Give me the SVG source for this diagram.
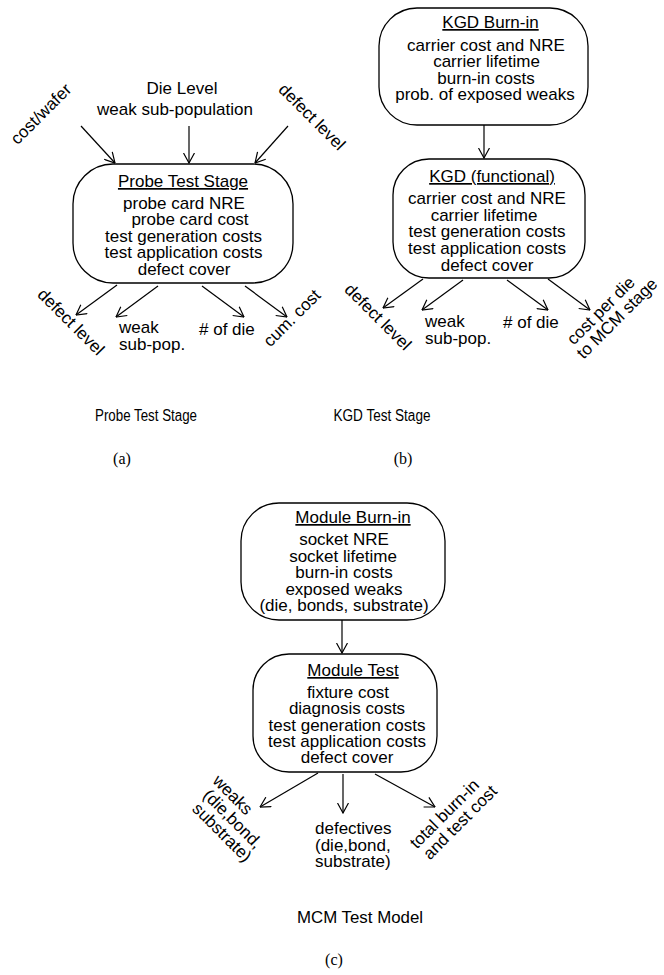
<svg xmlns="http://www.w3.org/2000/svg" width="664" height="975" viewBox="0 0 664 975">
<style>
  text { font-family: "Liberation Sans", Arial, sans-serif; font-size: 17px; fill: #000; }
  .c { text-anchor: middle; }
  .t { text-anchor: middle; text-decoration: underline; }
  .cap { font-size: 16px; text-anchor: middle; }
  .lbl { font-family: "Liberation Serif", "Times New Roman", serif; font-size: 16px; text-anchor: middle; }
  .box { fill: #fff; stroke: #000; stroke-width: 1.3; }
  .edge { fill: none; stroke: #000; stroke-width: 1.2; marker-end: url(#arr); }
</style>
<defs>
  <marker id="arr" viewBox="0 0 11 12" refX="10.5" refY="6" markerWidth="11" markerHeight="12" markerUnits="userSpaceOnUse" orient="auto">
    <path d="M0.5,0.5 L10.5,6 L0.5,11.5" fill="none" stroke="#000" stroke-width="1.2"/>
  </marker>
</defs>
<rect width="664" height="975" fill="#fff"/>

<!-- connectors -->
<g id="connectors">
  <line class="edge" x1="81" y1="126" x2="115" y2="163"/>
  <line class="edge" x1="189" y1="126" x2="189" y2="163"/>
  <line class="edge" x1="288" y1="126" x2="255" y2="163"/>
  <line class="edge" x1="117" y1="285" x2="76" y2="315"/>
  <line class="edge" x1="158" y1="286" x2="116" y2="317"/>
  <line class="edge" x1="202" y1="286" x2="244" y2="317"/>
  <line class="edge" x1="245" y1="286" x2="287" y2="317"/>

  <line class="edge" x1="484" y1="125" x2="484" y2="158"/>
  <line class="edge" x1="423" y1="279" x2="383" y2="308"/>
  <line class="edge" x1="463" y1="280" x2="422" y2="310"/>
  <line class="edge" x1="507" y1="280" x2="548" y2="310"/>
  <line class="edge" x1="548" y1="279" x2="590" y2="310"/>

  <line class="edge" x1="342" y1="620" x2="342" y2="653"/>
  <line class="edge" x1="318" y1="773" x2="260" y2="807"/>
  <line class="edge" x1="343" y1="774" x2="343" y2="813"/>
  <line class="edge" x1="375" y1="774" x2="435" y2="807"/>
</g>

<!-- panel (a) -->
<g id="die-level">
  <text class="c" x="182" y="94">Die Level</text>
  <text class="c" x="175" y="115">weak sub-population</text>
</g>
<g id="in-cost-wafer"><text class="c" transform="translate(45,118) rotate(-45)">cost/wafer</text></g>
<g id="in-defect-level"><text class="c" transform="translate(308,121) rotate(45)">defect level</text></g>
<g id="probe-test-stage">
  <rect class="box" x="73" y="164" width="220" height="119" rx="40" ry="40"/>
  <text class="t" x="183" y="187">Probe Test Stage</text>
  <text class="c" x="184" y="208.5">probe card NRE</text>
  <text class="c" x="190" y="225">probe card cost</text>
  <text class="c" x="183.5" y="241.5">test generation costs</text>
  <text class="c" x="183.5" y="258">test application costs</text>
  <text class="c" x="184" y="274.5">defect cover</text>
</g>
<g id="a-out-defect-level"><text class="c" transform="translate(67,326) rotate(45)">defect level</text></g>
<g id="a-out-weak">
  <text x="119" y="333">weak</text>
  <text x="119" y="350">sub-pop.</text>
</g>
<g id="a-out-die"><text x="199" y="335"># of die</text></g>
<g id="a-out-cum-cost"><text class="c" transform="translate(296,322) rotate(-45)">cum. cost</text></g>
<g id="caption-a">
  <text class="cap" x="146" y="421" textLength="102" lengthAdjust="spacingAndGlyphs">Probe Test Stage</text>
  <text class="lbl" x="122" y="464">(a)</text>
</g>

<!-- panel (b) -->
<g id="kgd-burn-in">
  <rect class="box" x="379" y="8" width="209" height="117" rx="38" ry="38"/>
  <text class="t" x="490.5" y="28">KGD Burn-in</text>
  <text class="c" x="486" y="50.5">carrier cost and NRE</text>
  <text class="c" x="486.5" y="67">carrier lifetime</text>
  <text class="c" x="486" y="83.5">burn-in costs</text>
  <text class="c" x="485" y="100">prob. of exposed weaks</text>
</g>
<g id="kgd-functional">
  <rect class="box" x="393" y="159" width="192" height="119" rx="36" ry="36"/>
  <text class="t" x="492" y="182">KGD (functional)</text>
  <text class="c" x="487" y="203.5">carrier cost and NRE</text>
  <text class="c" x="484" y="220.5">carrier lifetime</text>
  <text class="c" x="487" y="237">test generation costs</text>
  <text class="c" x="487" y="253.5">test application costs</text>
  <text class="c" x="487" y="270.5">defect cover</text>
</g>
<g id="b-out-defect-level"><text class="c" transform="translate(374,321) rotate(45)">defect level</text></g>
<g id="b-out-weak">
  <text x="425" y="327">weak</text>
  <text x="425" y="344">sub-pop.</text>
</g>
<g id="b-out-die"><text x="503" y="328"># of die</text></g>
<g id="b-out-cost-per-die">
  <text class="c" transform="translate(609,316) rotate(-45)"><tspan x="-2" y="-4">cost per die</tspan><tspan x="4" y="13">to MCM stage</tspan></text>
</g>
<g id="caption-b">
  <text class="cap" x="382" y="421" textLength="97" lengthAdjust="spacingAndGlyphs">KGD Test Stage</text>
  <text class="lbl" x="403" y="464">(b)</text>
</g>

<!-- panel (c) -->
<g id="module-burn-in">
  <rect class="box" x="241" y="503" width="204" height="117" rx="38" ry="38"/>
  <text class="t" x="353" y="523">Module Burn-in</text>
  <text class="c" x="344" y="545">socket NRE</text>
  <text class="c" x="343" y="561.5">socket lifetime</text>
  <text class="c" x="344" y="578">burn-in costs</text>
  <text class="c" x="344" y="594.5">exposed weaks</text>
  <text class="c" x="344" y="611">(die, bonds, substrate)</text>
</g>
<g id="module-test">
  <rect class="box" x="253" y="654" width="184" height="118" rx="36" ry="36"/>
  <text class="t" x="353" y="676">Module Test</text>
  <text class="c" x="348" y="698">fixture cost</text>
  <text class="c" x="347" y="714">diagnosis costs</text>
  <text class="c" x="347" y="730.5">test generation costs</text>
  <text class="c" x="347" y="746.5">test application costs</text>
  <text class="c" x="347" y="762.5">defect cover</text>
</g>
<g id="c-out-weaks">
  <text class="c" transform="translate(228,818) rotate(45)"><tspan x="-13" y="-14">weaks</tspan><tspan x="4" y="3">(die,bond,</tspan><tspan x="6" y="20">substrate)</tspan></text>
</g>
<g id="c-out-defectives">
  <text x="315" y="834">defectives</text>
  <text x="315" y="851">(die,bond,</text>
  <text x="315" y="867">substrate)</text>
</g>
<g id="c-out-total-cost">
  <text class="c" transform="translate(452,820) rotate(-45)"><tspan x="-1" y="-4">total burn-in</tspan><tspan x="4" y="13">and test cost</tspan></text>
</g>
<g id="caption-c">
  <text class="cap" x="360" y="923" style="font-size:17px" textLength="126" lengthAdjust="spacingAndGlyphs">MCM Test Model</text>
  <text class="lbl" x="334" y="965">(c)</text>
</g>
</svg>
